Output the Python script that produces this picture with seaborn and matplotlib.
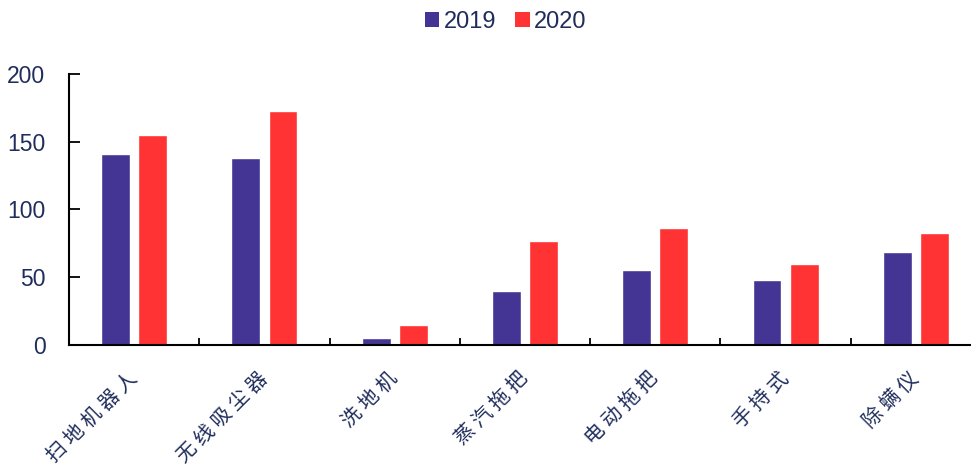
import matplotlib
matplotlib.use("Agg")
import matplotlib.pyplot as plt
import seaborn as sns
import pandas as pd
import numpy as np
from matplotlib.ticker import FixedLocator
from matplotlib.patches import Patch

categories = ["扫地机器人", "无线吸尘器", "洗地机", "蒸汽拖把", "电动拖把", "手持式", "除螨仪"]
v2019 = [141, 138, 5, 40, 55, 48, 69]
v2020 = [155, 173, 15, 77, 86, 60, 83]
years = ["2019", "2020"]
yticks = [0, 50, 100, 150, 200]

sns.set_theme(style="white")
plt.rcParams['font.family'] = ['Liberation Sans', 'Noto Sans CJK SC', 'DejaVu Sans']

df = pd.DataFrame({
    "cat": categories * 2,
    "year": [years[0]] * len(categories) + [years[1]] * len(categories),
    "val": v2019 + v2020,
})

colors = {"2019": "#443594", "2020": "#FF3333"}
txt = "#1F2D5C"

fig = plt.figure(figsize=(9.71, 4.68), dpi=100)
ax = fig.add_axes([69/971, (468-345)/468, (981-69)/971, (345-74)/468])
sns.barplot(data=df, x="cat", y="val", hue="year", palette=colors, width=0.57, gap=0.22,
            saturation=1, ax=ax, legend=False)

ax.set_xlim(-0.5, len(categories) - 0.5)
ax.set_ylim(0, 200)
ax.set_yticks(yticks)
ax.set_yticklabels([str(t) for t in yticks], fontsize=16.5, color=txt, family=['Liberation Sans'])
ax.tick_params(axis='y', direction='in', length=8, width=1.3, color='black', pad=17, left=True)
ax.set_xticks(range(len(categories)))
spaced = [" ".join(list(c)) for c in categories]
ax.set_xticklabels(spaced, rotation=45, ha='right', va='center', rotation_mode='anchor',
                   fontsize=14.5, color=txt, family=['Noto Sans CJK SC', 'DejaVu Sans'])
ax.tick_params(axis='x', which='major', length=0, pad=22)
ax.xaxis.set_minor_locator(FixedLocator(np.arange(0.5, len(categories) - 0.5, 1.0)))
ax.tick_params(axis='x', which='minor', direction='in', length=5, width=1.3, color='black', bottom=True)
ax.set_xlabel("")
ax.set_ylabel("")
for s in ["top", "right"]:
    ax.spines[s].set_visible(False)
for s in ["left", "bottom"]:
    ax.spines[s].set_color("black")
    ax.spines[s].set_linewidth(1.5)

handles = [Patch(facecolor=colors[y], edgecolor='none') for y in years]
fig.legend(handles, years, loc='center', bbox_to_anchor=(506/971, 0.953), ncol=2, frameon=False,
           fontsize=17, handlelength=0.6, handleheight=0.6, handletextpad=0.2, columnspacing=0.8,
           labelcolor=txt)

fig.savefig("out.png", dpi=100)
